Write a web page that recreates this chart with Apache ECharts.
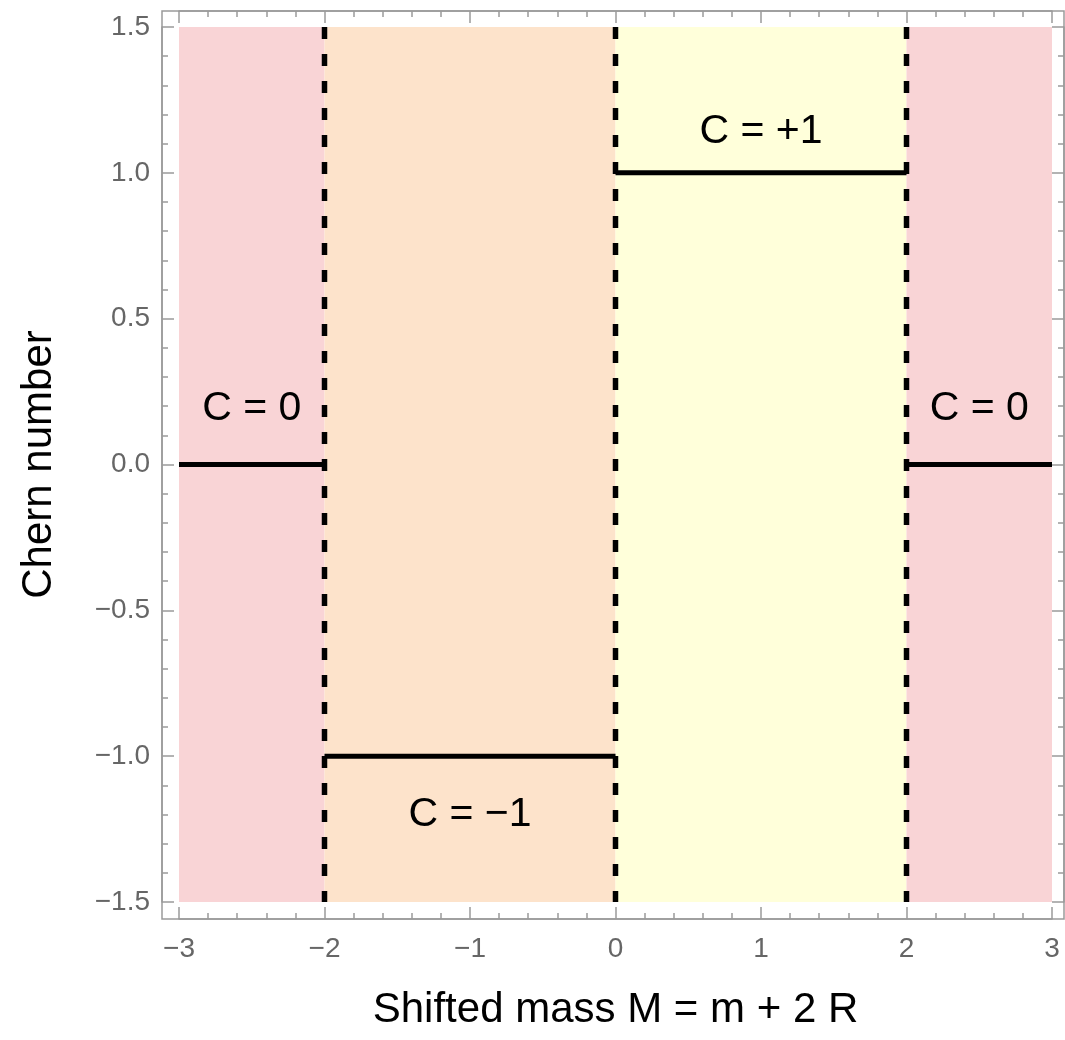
<!DOCTYPE html>
<html>
<head>
<meta charset="utf-8">
<title>Chern number vs shifted mass</title>
<script src="https://cdn.jsdelivr.net/npm/echarts@6/dist/echarts.min.js"></script>
<style>
  html, body { margin: 0; padding: 0; background: #ffffff; }
  #chart { width: 1065px; height: 1040px; }
</style>
</head>
<body>
<div id="chart"></div>
<script>
// Phase diagram: Chern number C as a function of the shifted mass M = m + 2R
const phaseEdges = [-3, -2, 0, 2, 3];
const chernValues = [0, -1, 1, 0];
const phaseColors = ['#F9D4D6', '#FDE3CB', '#FFFFDA', '#F9D4D6'];
const transitionPoints = [-2, 0, 2];
const yRange = [-1.5, 1.5];

const phaseLabels = ['C = 0', 'C = \u22121', 'C = +1', 'C = 0'];
const phaseLabelX = [-2.5, -1.0, 1.0, 2.5];
const phaseLabelY = [0.19, -1.2, 1.14, 0.19];

const xTickValues = [-3, -2, -1, 0, 1, 2, 3];
const xTickLabels = ['\u22123', '\u22122', '\u22121', '0', '1', '2', '3'];
const yTickValues = [-1.5, -1.0, -0.5, 0.0, 0.5, 1.0, 1.5];
const yTickLabels = ['\u22121.5', '\u22121.0', '\u22120.5', '0.0', '0.5', '1.0', '1.5'];

// layout of the plot region and the frame that sits a little outside it
const W = 1065, H = 1040;
const grid = { left: 179, right: 13, top: 27, bottom: 138 };
const pad = { left: 17, right: 12, top: 16, bottom: 17 };
const frameColor = '#9a9a9a';
const tickTextColor = '#666666';
const fontFamily = 'Liberation Sans, Arial, Helvetica, sans-serif';

function lookup(values, labels) {
  return function (v) {
    for (let i = 0; i < values.length; i++) {
      if (Math.abs(values[i] - v) < 1e-9) return labels[i];
    }
    return '';
  };
}

function frameAxis(extra) {
  return Object.assign({
    type: 'value',
    axisLine: { show: true, onZero: false, lineStyle: { color: frameColor, width: 1.5 } },
    axisTick: { show: true, inside: true, length: 12, lineStyle: { color: frameColor, width: 1.5 } },
    minorTick: { show: true, splitNumber: 5, length: 6, lineStyle: { color: frameColor, width: 1.5 } },
    splitLine: { show: false },
    minorSplitLine: { show: false }
  }, extra);
}

const xAxes = [
  frameAxis({
    position: 'bottom', offset: pad.bottom, min: -3, max: 3, interval: 1,
    axisLabel: { show: true, formatter: lookup(xTickValues, xTickLabels), color: tickTextColor,
      fontSize: 28, fontFamily: fontFamily, margin: 16 },
    name: 'Shifted mass M = m + 2 R', nameLocation: 'middle', nameGap: 70,
    nameTextStyle: { color: '#000', fontSize: 42, fontFamily: fontFamily }
  }),
  frameAxis({
    position: 'top', offset: pad.top, min: -3, max: 3, interval: 1,
    axisLabel: { show: false }
  })
];

const yAxes = [
  frameAxis({
    position: 'left', offset: pad.left, min: -1.5, max: 1.5, interval: 0.5,
    axisLabel: { show: true, formatter: lookup(yTickValues, yTickLabels), color: tickTextColor,
      fontSize: 28, fontFamily: fontFamily, margin: 12 },
    name: 'Chern number', nameLocation: 'middle', nameGap: 102, nameRotate: 90,
    nameTextStyle: { color: '#000', fontSize: 42, fontFamily: fontFamily }
  }),
  frameAxis({
    position: 'right', offset: pad.right, min: -1.5, max: 1.5, interval: 0.5,
    axisLabel: { show: false }
  })
];

const series = [];

// shaded phase regions
series.push({
  type: 'line', data: [], silent: true, z: 1,
  markArea: {
    silent: true,
    data: chernValues.map((c, i) => [
      { xAxis: phaseEdges[i], yAxis: yRange[0], itemStyle: { color: phaseColors[i], opacity: 1 } },
      { xAxis: phaseEdges[i + 1], yAxis: yRange[1] }
    ])
  }
});

// plateau of C within each phase
chernValues.forEach((c, i) => {
  series.push({
    type: 'line', symbol: 'none', silent: true, z: 3,
    data: [[phaseEdges[i], c], [phaseEdges[i + 1], c]],
    lineStyle: { color: '#000', width: 5, cap: 'butt' }
  });
});

// phase transitions (gap closings)
transitionPoints.forEach((x) => {
  series.push({
    type: 'line', symbol: 'none', silent: true, z: 4,
    data: [[x, yRange[1]], [x, yRange[0]]],
    lineStyle: { color: '#000', width: 5.5, type: [12, 15], cap: 'butt' }
  });
});

// phase annotations
series.push({
  type: 'scatter', silent: true, z: 5, symbolSize: 0,
  itemStyle: { color: '#000', opacity: 1 },
  data: phaseLabels.map((t, i) => ({ value: [phaseLabelX[i], phaseLabelY[i]], name: t })),
  label: {
    show: true, position: 'inside', formatter: (p) => p.name, opacity: 1,
    color: '#000000', textBorderWidth: 0, fontSize: 41, fontFamily: fontFamily
  },
  emphasis: { disabled: true }
});

const chart = echarts.init(document.getElementById('chart'), null, { renderer: 'canvas', width: W, height: H });
chart.setOption({
  backgroundColor: '#ffffff',
  animation: false,
  grid: Object.assign({ containLabel: false }, grid),
  xAxis: xAxes,
  yAxis: yAxes,
  series: series,
  graphic: [{
    type: 'rect', silent: true, z: 10,
    shape: {
      x: grid.left - pad.left,
      y: grid.top - pad.top,
      width: (W - grid.right + pad.right) - (grid.left - pad.left),
      height: (H - grid.bottom + pad.bottom) - (grid.top - pad.top)
    },
    style: { fill: 'none', stroke: frameColor, lineWidth: 1.5 }
  }]
});
</script>
</body>
</html>
